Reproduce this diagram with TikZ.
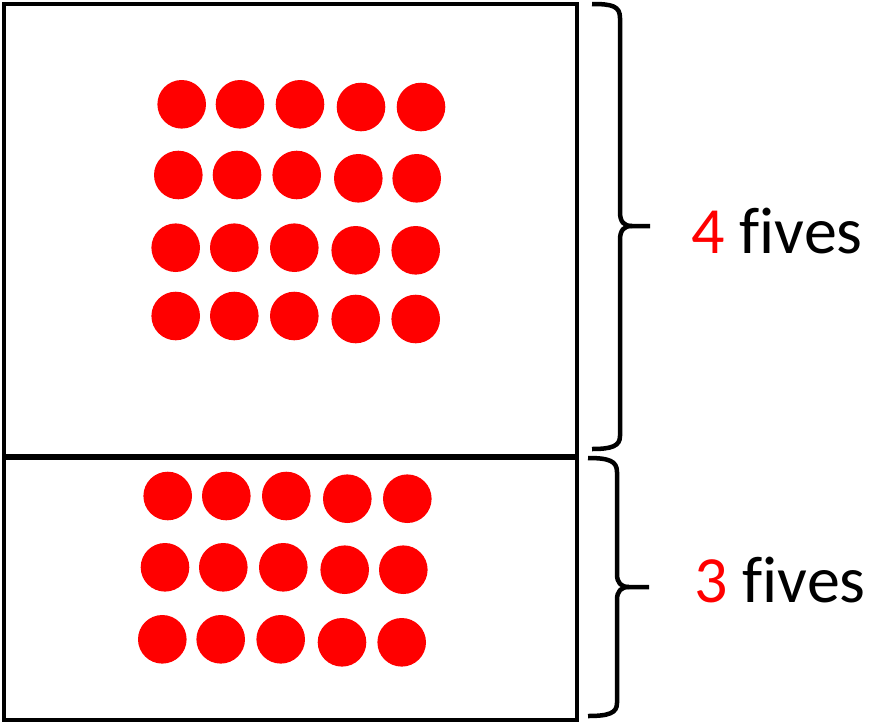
\documentclass[tikz,border=0pt]{standalone}
\usepackage{fontspec}
\setmainfont{Carlito}[Ligatures=NoCommon]
\begin{document}
\begin{tikzpicture}[x=1pt,y=-1pt,
  dot/.style={circle,fill=red,draw=none,minimum size=48.6pt,inner sep=0pt},
  frame/.style={draw=black,line width=4.5pt},
  bracepath/.style={draw=black,line width=4.5pt,line cap=butt,line join=round},
  lbl/.style={anchor=base west,inner sep=0pt,font=\fontsize{66}{70}\selectfont}]
\useasboundingbox (0,0) rectangle (872,723);
% boxes
\draw[frame] (4,4) rectangle (577,457);
\draw[frame] (4,457) rectangle (577,720);
\draw[draw=black,line width=6pt] (4,457) -- (577,457);
% top dots
\foreach \x/\y [count=\i] in {181.7/104.3,240/104.3,300/104.3,361/107,421/107,
  178.3/175,237/175,296.7/175,358.3/178.3,416.7/178.3,
  175.7/247.7,234.3/247.7,294.3/247.7,355.7/250.3,415.7/250.3,
  175.7/316,234.3/316,294.3/316,355.7/319,415.7/319}
  \node[dot] (t\i) at (\x,\y) {};
% bottom dots
\foreach \x/\y [count=\i] in {167.7/496,226.3/496,286.3/496,347.3/498.7,407.3/498.7,
  165/567.3,223.3/567.3,283.3/567.3,344.7/569.7,403.3/569.7,
  162.3/639.3,220.7/639.3,280.7/639.3,342/642.3,401.7/642.3}
  \node[dot] (b\i) at (\x,\y) {};
% top brace
\draw[bracepath] (592,4) .. controls (612,4) and (620,6) .. (620,18) -- (620,212)
  .. controls (620,222) and (624,226) .. (632,226) -- (650,226);
\draw[bracepath] (632,226) .. controls (624,226) and (620,230) .. (620,240) -- (620,436)
  .. controls (620,446) and (612,449) .. (592,449);
% bottom brace
\draw[bracepath] (588,458) .. controls (609,458) and (617,461) .. (617,472) -- (617,574)
  .. controls (617,583) and (621,587) .. (629,587) -- (649,587);
\draw[bracepath] (629,587) .. controls (621,587) and (617,591) .. (617,600) -- (617,703)
  .. controls (617,713) and (609,716) .. (588,716);
% labels
\node[lbl] (l4) at (691,253.3) {\textcolor{red}{4} fives};
\node[lbl] (l3) at (694,602.3) {\textcolor{red}{3} fives};
\end{tikzpicture}
\end{document}
